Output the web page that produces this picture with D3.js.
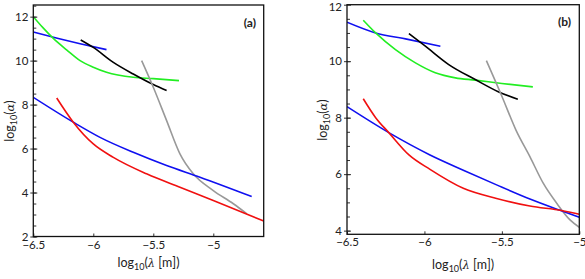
<!DOCTYPE html>
<html>
<head>
<meta charset="utf-8">
<script src="https://cdn.jsdelivr.net/npm/d3@7"></script>
<style>
  body { margin: 0; background: #fff; }
  text { font-family: Lato, "Open Sans", sans-serif; fill: #222; }
</style>
</head>
<body>
<div id="chart_container"></div>
<script>
// tick values
var xTicks = [-6.5, -6, -5.5, -5];
var yTicksA = [2, 4, 6, 8, 10, 12];
var yTicksB = [4, 6, 8, 10, 12];

// panel (a) curves, [log10(lambda), log10(alpha)]
var aBlueUpper = [[-6.5, 11.3], [-6.3, 11.02], [-6.11, 10.77], [-5.89, 10.5]];
var aGreen = [[-6.5, 12.0], [-6.42, 11.5], [-6.333, 11.01], [-6.22, 10.48], [-6.11, 10.0], [-6.0, 9.7], [-5.89, 9.47], [-5.667, 9.24], [-5.5, 9.18], [-5.286, 9.09]];
var aBlack = [[-6.105, 10.94], [-6.0, 10.6], [-5.833, 9.92], [-5.667, 9.39], [-5.5, 8.91], [-5.389, 8.64]];
var aGray = [[-5.597, 10.0], [-5.5, 8.79], [-5.389, 7.27], [-5.278, 5.76], [-5.167, 4.85], [-5.0, 4.09], [-4.833, 3.49], [-4.72, 3.03]];
var aBlueLower = [[-6.5, 8.33], [-6.167, 7.2], [-5.944, 6.51], [-5.667, 5.83], [-5.389, 5.23], [-5.111, 4.7], [-4.68, 3.82]];
var aRed = [[-6.305, 8.3], [-6.167, 7.2], [-6.0, 6.21], [-5.833, 5.6], [-5.556, 4.85], [-5.278, 4.24], [-5.0, 3.64], [-4.58, 2.7]];

// panel (b) curves
var bBlueUpper = [[-6.5, 11.38], [-6.315, 11.0], [-6.122, 10.79], [-5.897, 10.53]];
var bGreen = [[-6.395, 11.45], [-6.315, 11.0], [-6.187, 10.41], [-6.058, 9.94], [-5.93, 9.59], [-5.8, 9.41], [-5.672, 9.33], [-5.5, 9.21], [-5.3, 9.09]];
var bBlack = [[-6.1, 10.98], [-5.994, 10.53], [-5.843, 9.88], [-5.672, 9.35], [-5.52, 8.91], [-5.397, 8.65]];
var bGray = [[-5.6, 10.02], [-5.5, 8.76], [-5.409, 7.56], [-5.319, 6.62], [-5.233, 5.68], [-5.146, 4.97], [-5.06, 4.38], [-5.0, 4.12]];
var bBlueLower = [[-6.5, 8.39], [-6.23, 7.47], [-5.964, 6.68], [-5.749, 6.14], [-5.534, 5.62], [-5.319, 5.12], [-5.125, 4.72], [-5.0, 4.47]];
var bRed = [[-6.395, 8.67], [-6.315, 8.0], [-6.23, 7.47], [-6.1, 6.68], [-5.964, 6.17], [-5.749, 5.5], [-5.534, 5.14], [-5.319, 4.87], [-5.114, 4.71], [-5.0, 4.58]];

var colors = { blue: "#1010f0", green: "#22ee22", black: "#000", gray: "#999", red: "#f01010" };

var svg = d3.select("#chart_container").append("svg")
    .attr("width", 585)
    .attr("height", 279);

function drawPanel(p) {
    var x = d3.scaleLinear().domain(p.xDomain).range(p.xRange);
    var y = d3.scaleLinear().domain(p.yDomain).range(p.yRange);
    var g = svg.append("g");

    // clip so curves stay inside the frame
    g.append("clipPath").attr("id", "clip" + p.id)
        .append("rect")
        .attr("x", p.xRange[0]).attr("y", p.yRange[1])
        .attr("width", p.xRange[1] - p.xRange[0])
        .attr("height", p.yRange[0] - p.yRange[1]);

    var line = d3.line()
        .x(function(d) { return x(d[0]); })
        .y(function(d) { return y(d[1]); })
        .curve(d3.curveMonotoneX);

    var curves = g.append("g").attr("clip-path", "url(#clip" + p.id + ")");
    p.series.forEach(function(s) {
        curves.append("path")
            .datum(s.data)
            .attr("fill", "none")
            .attr("stroke", colors[s.color])
            .attr("stroke-width", 1.6)
            .attr("d", line);
    });

    // minor y ticks, every 0.5
    var minor = d3.range(Math.ceil(p.yDomain[0] * 2) / 2, p.yDomain[1], 0.5);
    g.append("g")
        .attr("transform", "translate(" + p.xRange[0] + ",0)")
        .call(d3.axisRight(y).tickValues(minor).tickSize(3).tickFormat(""))
        .call(function(a) { a.select(".domain").remove(); a.selectAll("line").attr("stroke", "#333"); });

    // y axis
    g.append("g")
        .attr("transform", "translate(" + p.xRange[0] + ",0)")
        .call(d3.axisLeft(y).tickValues(p.yTicks).tickSize(3).tickPadding(2).tickFormat(d3.format("d")))
        .call(function(a) {
            a.select(".domain").remove();
            a.selectAll("line").attr("stroke", "#333").attr("x2", -3).attr("x1", 4);
            a.selectAll("text").style("font-size", "11.5px").attr("fill", "#222")
                .attr("dy", function(d) { return d === 12 && p.id === "b" ? "0.5em" : "0.32em"; });
        });

    // x axis
    g.append("g")
        .attr("transform", "translate(0," + p.yRange[0] + ")")
        .call(d3.axisBottom(x).tickValues(xTicks).tickSize(0).tickPadding(4).tickFormat(d3.format("")))
        .call(function(a) {
            a.select(".domain").remove();
            a.selectAll("line").remove();
            a.selectAll("text").style("font-size", "11.5px").attr("fill", "#222");
        });
    g.append("g")
        .attr("transform", "translate(0," + p.yRange[0] + ")")
        .call(d3.axisTop(x).tickValues(xTicks).tickSize(3).tickFormat(""))
        .call(function(a) { a.select(".domain").remove(); a.selectAll("line").attr("stroke", "#333"); });

    // frame
    g.append("rect")
        .attr("x", p.xRange[0]).attr("y", p.yRange[1])
        .attr("width", p.xRange[1] - p.xRange[0])
        .attr("height", p.yRange[0] - p.yRange[1])
        .attr("fill", "none")
        .attr("stroke", "#111")
        .attr("stroke-width", 1.3);

    // panel tag
    g.append("text")
        .attr("x", p.tag[1]).attr("y", p.tag[2])
        .attr("text-anchor", "end")
        .style("font-size", "12px")
        .style("font-weight", "bold")
        .text(p.tag[0]);

    // axis titles
    var xt = g.append("text")
        .attr("x", (p.xRange[0] + p.xRange[1]) / 2)
        .attr("y", p.xTitleY)
        .attr("text-anchor", "middle")
        .style("font-size", "12.5px");
    xt.append("tspan").text("log");
    xt.append("tspan").attr("dy", 3).style("font-size", "9px").text("10");
    xt.append("tspan").attr("dy", -3).text("(");
    xt.append("tspan").style("font-style", "italic").style("font-family", "'DejaVu Serif', serif").style("font-size", "11.5px").text("λ");
    xt.append("tspan").text(" [m])");

    var yt = g.append("text")
        .attr("transform", "translate(" + p.yTitle[0] + "," + p.yTitle[1] + ") rotate(-90)")
        .attr("text-anchor", "middle")
        .style("font-size", "12.5px");
    yt.append("tspan").text("log");
    yt.append("tspan").attr("dy", 3).style("font-size", "9px").text("10");
    yt.append("tspan").attr("dy", -3).text("(");
    yt.append("tspan").style("font-style", "italic").style("font-family", "'DejaVu Serif', serif").style("font-size", "11.5px").text("α");
    yt.append("tspan").text(")");
}

drawPanel({
    id: "a",
    xDomain: [-6.5, -4.58], xRange: [33.3, 263.7],
    yDomain: [2, 12.53], yRange: [236.5, 5],
    yTicks: yTicksA,
    tag: ["(a)", 256, 27],
    xTitleY: 267,
    yTitle: [14, 121],
    series: [
        { data: aBlueUpper, color: "blue" },
        { data: aGreen, color: "green" },
        { data: aBlack, color: "black" },
        { data: aGray, color: "gray" },
        { data: aBlueLower, color: "blue" },
        { data: aRed, color: "red" }
    ]
});

drawPanel({
    id: "b",
    xDomain: [-6.5, -5], xRange: [347, 579.3],
    yDomain: [3.87, 12], yRange: [234.3, 4.7],
    yTicks: yTicksB,
    tag: ["(b)", 571, 26],
    xTitleY: 269,
    yTitle: [327, 120],
    series: [
        { data: bBlueUpper, color: "blue" },
        { data: bGreen, color: "green" },
        { data: bBlack, color: "black" },
        { data: bGray, color: "gray" },
        { data: bBlueLower, color: "blue" },
        { data: bRed, color: "red" }
    ]
});
</script>
</body>
</html>
